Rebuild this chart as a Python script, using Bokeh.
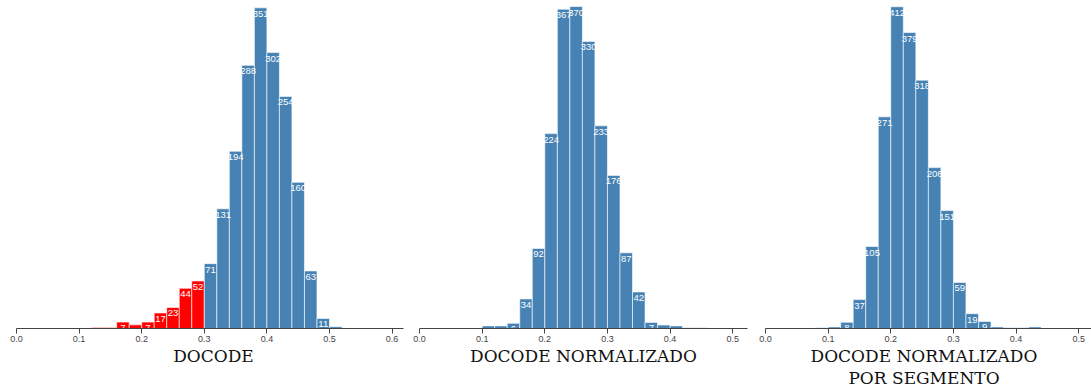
from bokeh.plotting import figure
from bokeh.layouts import row
from bokeh.models import ColumnDataSource
from bokeh.core.properties import value
from bokeh.embed import file_html
from bokeh.resources import INLINE

BIN_WIDTH = 0.02
THRESHOLD = 0.30

# Panel 1: DOCODE
docode_bins = [0.12, 0.14, 0.16, 0.18, 0.20, 0.22, 0.24, 0.26, 0.28, 0.30,
               0.32, 0.34, 0.36, 0.38, 0.40, 0.42, 0.44, 0.46, 0.48, 0.50]
docode_counts = [1, 1, 7, 4, 7, 17, 23, 44, 52, 71,
                 131, 194, 288, 351, 302, 254, 160, 63, 11, 2]

# Panel 2: DOCODE NORMALIZADO
norm_bins = [0.10, 0.12, 0.14, 0.16, 0.18, 0.20, 0.22, 0.24, 0.26,
             0.28, 0.30, 0.32, 0.34, 0.36, 0.38, 0.40, 0.42, 0.44]
norm_counts = [3, 3, 6, 34, 92, 224, 367, 370, 330,
               233, 176, 87, 42, 7, 4, 3, 1, 1]

# Panel 3: DOCODE NORMALIZADO POR SEGMENTO
seg_bins = [0.08, 0.10, 0.12, 0.14, 0.16, 0.18, 0.20, 0.22, 0.24,
            0.26, 0.28, 0.30, 0.32, 0.34, 0.36, 0.38, 0.40, 0.42]
seg_counts = [1, 2, 8, 37, 105, 271, 412, 379, 318,
              206, 151, 59, 19, 9, 2, 1, 1, 2]

titles = ["DOCODE", "DOCODE NORMALIZADO", "DOCODE NORMALIZADO\nPOR SEGMENTO"]
tick_values = [0.0, 0.1, 0.2, 0.3, 0.4, 0.5, 0.6]

BLUE = "#4682b4"
RED = "#ff0000"


def panel(bins, counts, title, width, x_start, x_end, bound_end, y_end,
          highlight, border_left=0):
    src = ColumnDataSource(dict(
        x=[b + BIN_WIDTH / 2 for b in bins],
        top=counts,
        label=[str(c) for c in counts],
        color=[RED if (highlight and b < THRESHOLD - 1e-9) else BLUE for b in bins],
    ))
    p = figure(width=width, height=390, x_range=(x_start, x_end),
               y_range=(0, y_end), toolbar_location=None,
               output_backend="svg", min_border_left=border_left,
               min_border_right=0, min_border_top=0, min_border_bottom=58,
               outline_line_color=None, background_fill_color="white",
               border_fill_color="white")
    p.vbar(x="x", top="top", bottom=0, width=BIN_WIDTH, source=src,
           fill_color="color", line_color="white", line_alpha=0.6, line_width=1)
    p.text(x="x", y="top", text="label", source=src, text_align="center",
           text_baseline="top", y_offset=3, text_color="white",
           text_font=value("Liberation Sans"), text_font_size="9.5px")
    p.yaxis.visible = False
    p.xgrid.visible = False
    p.ygrid.visible = False
    ax = p.xaxis[0]
    ax.ticker = [t for t in tick_values if t <= bound_end]
    ax.bounds = (0, bound_end)
    ax.major_label_overrides = {t: f"{t:.1f}" for t in tick_values}
    ax.axis_line_color = "#444444"
    ax.major_tick_line_color = "#444444"
    ax.major_tick_out = 5
    ax.major_tick_in = 0
    ax.minor_tick_line_color = None
    ax.major_label_text_font = "Liberation Sans"
    ax.major_label_text_font_size = "9px"
    ax.major_label_text_color = "#444444"
    ax.major_label_standoff = 2
    ax.axis_label = title
    ax.axis_label_text_font = "DejaVu Serif"
    ax.axis_label_text_font_size = "17px"
    ax.axis_label_text_font_style = "normal"
    ax.axis_label_text_color = "#111111"
    ax.axis_label_standoff = 1
    ax.axis_label_text_line_height = 1.1
    return p


p1 = panel(docode_bins, docode_counts, titles[0], 410, 0.0, 0.6294, 0.618, 359,
           True, border_left=16)
p2 = panel(norm_bins, norm_counts, titles[1], 346, -0.01437, 0.5379, 0.523, 377, False)
p3 = panel(seg_bins, seg_counts, titles[2], 335, -0.01437, 0.5204, 0.52, 420, False)

layout = row(p1, p2, p3)
open("out.html", "w").write(file_html(layout, INLINE))
